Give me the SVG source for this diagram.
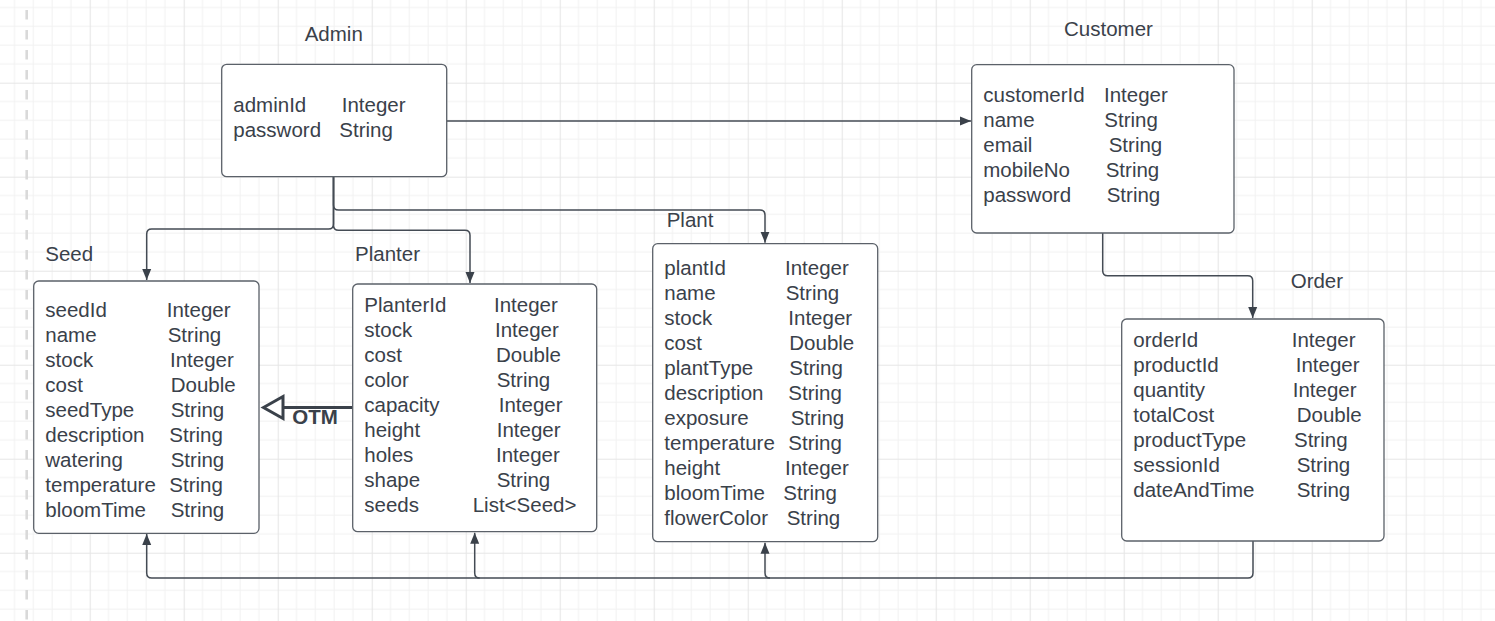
<svg xmlns="http://www.w3.org/2000/svg" width="1495" height="621" viewBox="0 0 1495 621">
<style>
.t{font-family:"Liberation Sans",Arial,sans-serif;font-size:20.5px;fill:#3a414a}
.b{font-weight:bold}
.box{fill:#fff;stroke:#5b6169;stroke-width:1.3}
.c{fill:none;stroke:#444b54;stroke-width:1.5}
</style>
<defs>
<pattern id="grid" width="94" height="94" patternUnits="userSpaceOnUse" x="-4.3" y="-11.3">
<path d="M18.8 0V94M37.6 0V94M56.4 0V94M75.2 0V94M0 18.8H94M0 37.6H94M0 56.4H94M0 75.2H94" stroke="#f1f1f1" stroke-width="1" fill="none"/>
<path d="M0.5 0V94M0 0.5H94" stroke="#e6e6e6" stroke-width="1.2" fill="none"/>
</pattern>
<marker id="ah" markerWidth="12" markerHeight="12" viewBox="0 0 12 12" refX="11" refY="6" orient="auto" markerUnits="userSpaceOnUse">
<path d="M0 1.5L11 6L0 10.5Z" fill="#3a414a"/>
</marker>
</defs>
<rect width="1495" height="621" fill="#fff"/>
<rect width="1495" height="621" fill="url(#grid)"/>
<line x1="26.7" y1="10" x2="26.7" y2="621" stroke="#d9d9d9" stroke-width="2.6" stroke-dasharray="9.5 10.5"/>

<g id="connectors">
<path class="c" d="M446.7 121H971" marker-end="url(#ah)"/>
<path class="c" d="M333.5 177V224Q333.5 229 328.5 229H151.7Q146.7 229 146.7 234V280" marker-end="url(#ah)"/>
<path class="c" d="M333.5 177V225.3Q333.5 230.3 338.5 230.3H465Q470 230.3 470 235.3V283" marker-end="url(#ah)"/>
<path class="c" d="M333.5 177V205Q333.5 210 338.5 210H760Q765 210 765 215V242.7" marker-end="url(#ah)"/>
<path class="c" d="M1102.7 233V270.7Q1102.7 275.7 1107.7 275.7H1247.7Q1252.7 275.7 1252.7 280.7V318" marker-end="url(#ah)"/>
<path class="c" d="M1253 541V573Q1253 578 1248 578H151.7Q146.7 578 146.7 573V534" marker-end="url(#ah)"/>
<path class="c" d="M479.7 578Q474.7 578 474.7 573V532.7" marker-end="url(#ah)"/>
<path class="c" d="M770 578Q765 578 765 573V542.7" marker-end="url(#ah)"/>
<line x1="352.7" y1="407.5" x2="283" y2="407.5" stroke="#3a414a" stroke-width="3"/>
<path d="M263.5 407.5L283 396.5V418.5Z" fill="#fff" stroke="#3a414a" stroke-width="3" stroke-linejoin="miter"/>
<text class="t b" x="292.3" y="424.3">OTM</text>
</g>

<g id="admin">
<text class="t" x="304.7" y="41">Admin</text>
<rect class="box" x="221.7" y="64.3" width="225" height="112.4" rx="5"/>
<text class="t" x="233.3" y="111.7">adminId</text><text class="t" x="341.7" y="111.7">Integer</text>
<text class="t" x="233.3" y="136.7">password</text><text class="t" x="339.3" y="136.7">String</text>
</g>

<g id="customer">
<text class="t" x="1064" y="35.5">Customer</text>
<rect class="box" x="971.7" y="64.7" width="262.3" height="168.3" rx="5"/>
<text class="t" x="983.3" y="101.7">customerId</text><text class="t" x="1104" y="101.7">Integer</text>
<text class="t" x="983.3" y="126.7">name</text><text class="t" x="1104.3" y="126.7">String</text>
<text class="t" x="983.3" y="151.7">email</text><text class="t" x="1108.7" y="151.7">String</text>
<text class="t" x="983.3" y="176.7">mobileNo</text><text class="t" x="1105.7" y="176.7">String</text>
<text class="t" x="983.3" y="201.7">password</text><text class="t" x="1106.7" y="201.7">String</text>
</g>

<g id="seed">
<text class="t" x="45.3" y="260.7">Seed</text>
<rect class="box" x="33.7" y="281" width="225.3" height="252.3" rx="5"/>
<text class="t" x="45.3" y="317">seedId</text><text class="t" x="166.7" y="317">Integer</text>
<text class="t" x="45.3" y="342">name</text><text class="t" x="167.7" y="342">String</text>
<text class="t" x="45.3" y="367">stock</text><text class="t" x="170" y="367">Integer</text>
<text class="t" x="45.3" y="392">cost</text><text class="t" x="170.7" y="392">Double</text>
<text class="t" x="45.3" y="417">seedType</text><text class="t" x="170.7" y="417">String</text>
<text class="t" x="45.3" y="442">description</text><text class="t" x="169.3" y="442">String</text>
<text class="t" x="45.3" y="467">watering</text><text class="t" x="170.7" y="467">String</text>
<text class="t" x="45.3" y="492">temperature</text><text class="t" x="169.3" y="492">String</text>
<text class="t" x="45.3" y="517">bloomTime</text><text class="t" x="170.7" y="517">String</text>
</g>

<g id="planter">
<text class="t" x="355" y="260.7">Planter</text>
<rect class="box" x="352.7" y="284" width="244" height="247.7" rx="5"/>
<text class="t" x="364.3" y="311.7">PlanterId</text><text class="t" x="494" y="311.7">Integer</text>
<text class="t" x="364.3" y="336.7">stock</text><text class="t" x="495" y="336.7">Integer</text>
<text class="t" x="364.3" y="361.7">cost</text><text class="t" x="496" y="361.7">Double</text>
<text class="t" x="364.3" y="386.7">color</text><text class="t" x="496.7" y="386.7">String</text>
<text class="t" x="364.3" y="411.7">capacity</text><text class="t" x="498.7" y="411.7">Integer</text>
<text class="t" x="364.3" y="436.7">height</text><text class="t" x="496.7" y="436.7">Integer</text>
<text class="t" x="364.3" y="461.7">holes</text><text class="t" x="496" y="461.7">Integer</text>
<text class="t" x="364.3" y="486.7">shape</text><text class="t" x="496.7" y="486.7">String</text>
<text class="t" x="364.3" y="511.7">seeds</text><text class="t" x="472.7" y="511.7">List&lt;Seed&gt;</text>
</g>

<g id="plant">
<text class="t" x="666.7" y="227.3">Plant</text>
<rect class="box" x="652.7" y="243.7" width="225" height="298" rx="5"/>
<text class="t" x="664.3" y="275">plantId</text><text class="t" x="785" y="275">Integer</text>
<text class="t" x="664.3" y="300">name</text><text class="t" x="785.7" y="300">String</text>
<text class="t" x="664.3" y="325">stock</text><text class="t" x="788.3" y="325">Integer</text>
<text class="t" x="664.3" y="350">cost</text><text class="t" x="789.3" y="350">Double</text>
<text class="t" x="664.3" y="375">plantType</text><text class="t" x="789.3" y="375">String</text>
<text class="t" x="664.3" y="400">description</text><text class="t" x="788.3" y="400">String</text>
<text class="t" x="664.3" y="425">exposure</text><text class="t" x="790.7" y="425">String</text>
<text class="t" x="664.3" y="450">temperature</text><text class="t" x="788.3" y="450">String</text>
<text class="t" x="664.3" y="475">height</text><text class="t" x="785" y="475">Integer</text>
<text class="t" x="664.3" y="500">bloomTime</text><text class="t" x="783.3" y="500">String</text>
<text class="t" x="664.3" y="525">flowerColor</text><text class="t" x="786.7" y="525">String</text>
</g>

<g id="order">
<text class="t" x="1290.7" y="288.3">Order</text>
<rect class="box" x="1121.7" y="319" width="262.3" height="222" rx="5"/>
<text class="t" x="1133.3" y="346.7">orderId</text><text class="t" x="1291.7" y="346.7">Integer</text>
<text class="t" x="1133.3" y="371.7">productId</text><text class="t" x="1295.7" y="371.7">Integer</text>
<text class="t" x="1133.3" y="396.7">quantity</text><text class="t" x="1292.7" y="396.7">Integer</text>
<text class="t" x="1133.3" y="421.7">totalCost</text><text class="t" x="1296.7" y="421.7">Double</text>
<text class="t" x="1133.3" y="446.7">productType</text><text class="t" x="1294" y="446.7">String</text>
<text class="t" x="1133.3" y="471.7">sessionId</text><text class="t" x="1296.7" y="471.7">String</text>
<text class="t" x="1133.3" y="496.7">dateAndTime</text><text class="t" x="1296.7" y="496.7">String</text>
</g>
</svg>
